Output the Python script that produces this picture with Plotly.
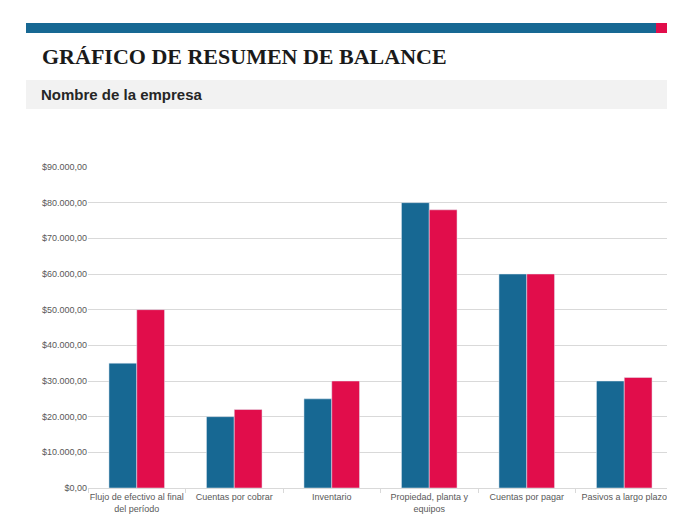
import plotly.graph_objects as go

categories = ["Flujo de efectivo al final<br>del período", "Cuentas por cobrar", "Inventario",
              "Propiedad, planta y<br>equipos", "Cuentas por pagar", "Pasivos a largo plazo"]
serie_1 = [35000, 20000, 25000, 80000, 60000, 30000]
serie_2 = [50000, 22000, 30000, 78000, 60000, 31000]
tick_vals = [0, 10000, 20000, 30000, 40000, 50000, 60000, 70000, 80000, 90000]
tick_text = ["$%s,00" % format(v, ",").replace(",", ".") for v in tick_vals]

W, H = 675, 520
L, R, T, B = 80, 10, 159, 40
pw, ph = W - L - R, H - T - B


def px(x):
    return (x - L) / pw


def py(y):
    return (H - B - y) / ph


fig = go.Figure()
fig.add_trace(go.Bar(x=categories, y=serie_1, marker_color="#176893", name="Año 1"))
fig.add_trace(go.Bar(x=categories, y=serie_2, marker_color="#e10d4b", name="Año 2"))

shapes = [
    dict(type="rect", xref="paper", yref="paper", x0=px(18), x1=px(648), y0=py(25), y1=py(15),
         fillcolor="#176893", line_width=0),
    dict(type="rect", xref="paper", yref="paper", x0=px(648), x1=px(675), y0=py(25), y1=py(15),
         fillcolor="#e10d4b", line_width=0),
    dict(type="rect", xref="paper", yref="paper", x0=px(18), x1=px(675), y0=py(101), y1=py(72),
         fillcolor="#f2f2f2", line_width=0),
]

fig.update_layout(
    width=W, height=H,
    margin=dict(l=L, r=R, t=T, b=B),
    plot_bgcolor="white", paper_bgcolor="white",
    barmode="group", bargap=0.43, bargroupgap=0,
    showlegend=False,
    shapes=shapes,
    font=dict(family="Liberation Sans, Arial", size=9, color="#595959"),
    annotations=[
        dict(text="<b>GRÁFICO DE RESUMEN DE BALANCE</b>", xref="paper", yref="paper",
             x=px(32), y=py(48), xanchor="left", yanchor="middle", showarrow=False,
             font=dict(family="Liberation Serif", size=22, color="#1a1a1a")),
        dict(text="<b>Nombre de la empresa</b>", xref="paper", yref="paper",
             x=px(31), y=py(87), xanchor="left", yanchor="middle", showarrow=False,
             font=dict(family="Liberation Sans, Arial", size=15, color="#262626")),
    ],
)
fig.update_yaxes(range=[0, 90000], tickvals=tick_vals, ticktext=tick_text, automargin=False,
                 gridcolor="#d9d9d9", zeroline=False, ticks="", fixedrange=True)
fig.update_xaxes(showline=True, linecolor="#d9d9d9", ticks="outside", tickcolor="#d9d9d9",
                 ticklen=4, tickson="boundaries", tickangle=0, automargin=False)

fig.write_html("out.html")
